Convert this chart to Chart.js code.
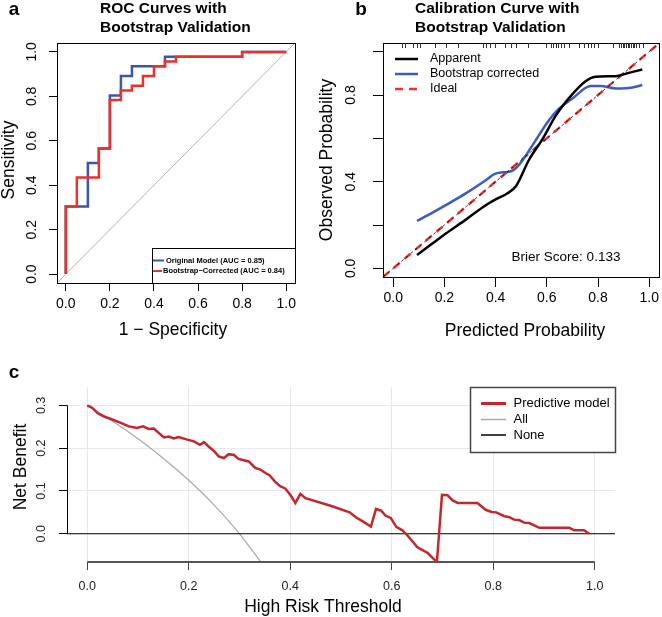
<!DOCTYPE html>
<html>
<head>
<meta charset="utf-8">
<script src="https://cdn.jsdelivr.net/npm/chart.js@4.4.0/dist/chart.umd.min.js"></script>
<style>
  html, body { margin: 0; padding: 0; background: #fff; }
  #wrap { position: relative; width: 662px; height: 617px; }
  .panel { position: absolute; }
</style>
</head>
<body>
<div id="wrap">
  <div class="panel" style="left:0;top:0;width:331px;height:345px"><canvas id="rocChart"></canvas></div>
  <div class="panel" style="left:300px;top:0;width:362px;height:345px"><canvas id="calChart"></canvas></div>
  <div class="panel" style="left:0;top:345px;width:662px;height:272px"><canvas id="dcaChart"></canvas></div>
</div>
<script>
// ---- data ----

// a: ROC
const unitTicks = [0, 0.2, 0.4, 0.6, 0.8, 1.0];
const origFpr = [0, 0, 0.1, 0.15, 0.2, 0.25, 0.3, 0.45, 0.8, 1.0];
const origTpr = [0, 0.304, 0.5, 0.565, 0.804, 0.891, 0.935, 0.978, 1.0, 1.0];
const bootFpr = [0, 0, 0.05, 0.15, 0.2, 0.25, 0.3, 0.35, 0.4, 0.45, 0.5, 0.8, 1.0];
const bootTpr = [0, 0.304, 0.435, 0.565, 0.783, 0.826, 0.848, 0.891, 0.935, 0.957, 0.978, 1.0, 1.0];
const chanceLine = [-0.04, 1.04];

// b: calibration
const calYLabels = [0, 0.4, 0.8];
const apparentX = [0.093, 0.15, 0.207, 0.285, 0.36, 0.40, 0.445, 0.48, 0.53, 0.585, 0.635, 0.69, 0.75, 0.79, 0.87, 0.92, 0.973];
const apparentY = [0.062, 0.112, 0.162, 0.226, 0.29, 0.318, 0.345, 0.38, 0.5, 0.6, 0.705, 0.79, 0.862, 0.884, 0.887, 0.902, 0.918];
const correctedX = [0.093, 0.15, 0.207, 0.285, 0.36, 0.395, 0.43, 0.46, 0.493, 0.545, 0.6, 0.64, 0.7, 0.772, 0.81, 0.87, 0.92, 0.973];
const correctedY = [0.219, 0.255, 0.293, 0.347, 0.405, 0.435, 0.443, 0.448, 0.48, 0.57, 0.67, 0.728, 0.784, 0.841, 0.841, 0.83, 0.832, 0.846];
const idealLine = [-0.04, 1.04];
const rugProb = [0.036, 0.045, 0.078, 0.091, 0.104, 0.162, 0.208, 0.253, 0.351, 0.364, 0.377, 0.396, 0.435, 0.461, 0.481,
  0.526, 0.597, 0.617, 0.623, 0.634, 0.643, 0.656, 0.669, 0.688, 0.727, 0.747, 0.76, 0.773, 0.786, 0.799,
  0.857, 0.883, 0.89, 0.896, 0.903, 0.909, 0.916, 0.922, 0.929, 0.935, 0.942, 0.948, 0.961, 0.974];
const brierScore = 0.133;

// c: decision curve
const dcaXTicks = [0, 0.2, 0.4, 0.6, 0.8, 1.0];
const dcaYTicks = [0, 0.1, 0.2, 0.3];
const modelThreshold = [0, 0.01, 0.02, 0.033, 0.049, 0.066, 0.082, 0.098, 0.11, 0.121, 0.131, 0.151, 0.161, 0.17, 0.18,
  0.197, 0.21, 0.222, 0.23, 0.239, 0.249, 0.259, 0.269, 0.279, 0.289, 0.298, 0.318, 0.331, 0.341, 0.351,
  0.359, 0.37, 0.38, 0.39, 0.4, 0.41, 0.42, 0.43, 0.481, 0.517, 0.53, 0.543, 0.559, 0.569, 0.579,
  0.588, 0.598, 0.609, 0.621, 0.631, 0.641, 0.65, 0.659, 0.671, 0.681, 0.689, 0.699, 0.71, 0.72, 0.73,
  0.769, 0.785, 0.797, 0.806, 0.822, 0.832, 0.841, 0.851, 0.861, 0.871, 0.891, 0.95, 0.96, 0.979, 0.989];
const modelNB = [0.3, 0.294, 0.282, 0.274, 0.267, 0.259, 0.251, 0.247, 0.251, 0.245, 0.246, 0.225, 0.227, 0.223, 0.226,
  0.22, 0.216, 0.208, 0.214, 0.204, 0.194, 0.181, 0.177, 0.186, 0.184, 0.175, 0.169, 0.154, 0.15, 0.142,
  0.137, 0.122, 0.111, 0.106, 0.091, 0.072, 0.093, 0.083, 0.065, 0.05, 0.038, 0.029, 0.017, 0.058, 0.054,
  0.042, 0.037, 0.016, 0.008, -0.004, -0.018, -0.031, -0.037, -0.045, -0.057, -0.066, 0.091, 0.09, 0.078, 0.072,
  0.072, 0.056, 0.051, 0.05, 0.041, 0.039, 0.033, 0.032, 0.026, 0.025, 0.014, 0.014, 0.008, 0.008, 0.0];
const allThreshold = [0, 0.05, 0.1, 0.15, 0.2, 0.25, 0.3, 0.342];
const allNB = [0.3, 0.263, 0.222, 0.176, 0.125, 0.067, 0.0, -0.066];
const noneThreshold = [-0.04, 1.04];
const noneNB = [0, 0];

// ---- helpers ----
const FONT = "'Liberation Sans', Arial, Helvetica, sans-serif";
Chart.defaults.font.family = FONT;
Chart.defaults.color = '#000';
Chart.defaults.animation = false;

const pts = (xs, ys) => xs.map((x, i) => ({ x: x, y: ys[i] }));

// free text: titles, panel letters, axis titles
const textPlugin = {
  id: 'panelText',
  afterDraw(chart, args, opts) {
    const ctx = chart.ctx;
    (opts.items || []).forEach(it => {
      ctx.save();
      ctx.font = it.font;
      ctx.fillStyle = it.color || '#000';
      ctx.textAlign = it.align || 'center';
      ctx.textBaseline = 'middle';
      ctx.translate(it.x, it.y);
      if (it.rot) ctx.rotate(it.rot);
      ctx.fillText(it.text, 0, 0);
      ctx.restore();
    });
  }
};

// R style y tick labels, parallel to the axis
const rotYTicks = {
  id: 'rotYTicks',
  afterDraw(chart, args, o) {
    const s = chart.scales.y, ctx = chart.ctx;
    ctx.save();
    ctx.font = o.font;
    ctx.fillStyle = o.color || '#000';
    ctx.textAlign = 'center';
    ctx.textBaseline = 'middle';
    o.values.forEach(v => {
      ctx.save();
      ctx.translate(chart.chartArea.left - o.offset, s.getPixelForValue(v));
      ctx.rotate(-Math.PI / 2);
      ctx.fillText(v.toFixed(1), 0, 0);
      ctx.restore();
    });
    ctx.restore();
  }
};

// box around plot region (a, b) or partial axis lines (c)
const framePlugin = {
  id: 'frame',
  afterDatasetsDraw(chart, args, o) {
    const ctx = chart.ctx, a = chart.chartArea;
    ctx.save();
    if (o.box) {
      ctx.strokeStyle = '#000';
      ctx.lineWidth = 1;
      ctx.strokeRect(Math.round(a.left) + 0.5, Math.round(a.top) + 0.5,
        Math.round(a.right - a.left), Math.round(a.bottom - a.top));
    }
    if (o.axes) {
      const xs = chart.scales.x, ys = chart.scales.y;
      ctx.strokeStyle = '#000';
      ctx.lineWidth = 1;
      ctx.beginPath();
      ctx.moveTo(Math.round(a.left) + 0.5, ys.getPixelForValue(o.axes.y[0]));
      ctx.lineTo(Math.round(a.left) + 0.5, ys.getPixelForValue(o.axes.y[1]));
      ctx.stroke();
      ctx.strokeStyle = '#555';
      ctx.lineWidth = 2;
      ctx.beginPath();
      ctx.moveTo(xs.getPixelForValue(o.axes.x[0]), a.bottom);
      ctx.lineTo(xs.getPixelForValue(o.axes.x[1]), a.bottom);
      ctx.stroke();
    }
    ctx.restore();
  }
};

// rug of predicted probabilities along top edge
const rugPlugin = {
  id: 'rug',
  afterDatasetsDraw(chart, args, o) {
    if (!o.values) return;
    const ctx = chart.ctx, xs = chart.scales.x, top = chart.chartArea.top;
    ctx.save();
    ctx.strokeStyle = '#333';
    ctx.lineWidth = 1;
    o.values.forEach(v => {
      const x = Math.round(xs.getPixelForValue(v)) + 0.5;
      ctx.beginPath();
      ctx.moveTo(x, top);
      ctx.lineTo(x, top + o.len);
      ctx.stroke();
    });
    ctx.restore();
  }
};

// legend drawn like R's legend(), styles taken from the datasets
const boxLegend = {
  id: 'boxLegend',
  afterDraw(chart, args, o) {
    if (!o.items) return;
    const ctx = chart.ctx;
    ctx.save();
    if (o.box) {
      ctx.fillStyle = '#fff';
      ctx.fillRect(o.box.x, o.box.y, o.box.w, o.box.h);
      ctx.strokeStyle = o.box.color;
      ctx.lineWidth = o.box.lw;
      ctx.strokeRect(o.box.x + 0.5, o.box.y + 0.5, o.box.w, o.box.h);
    }
    o.items.forEach(it => {
      const ds = chart.data.datasets[it.ds];
      ctx.strokeStyle = ds.borderColor;
      ctx.lineWidth = it.lw || ds.borderWidth;
      ctx.setLineDash(ds.borderDash || []);
      ctx.beginPath();
      ctx.moveTo(it.x1, it.y);
      ctx.lineTo(it.x2, it.y);
      ctx.stroke();
      ctx.setLineDash([]);
      ctx.font = o.font;
      ctx.fillStyle = '#000';
      ctx.textAlign = 'left';
      ctx.textBaseline = 'middle';
      ctx.fillText(ds.label, it.tx, it.y);
    });
    ctx.restore();
  }
};

function axis(opts) {
  return Object.assign({
    type: 'linear',
    border: { display: false },
    afterBuildTicks: s => { s.ticks = opts.tickValues.map(v => ({ value: v })); }
  }, opts.extra);
}

// ---- a: ROC ----
new Chart(document.getElementById('rocChart'), {
  type: 'line',
  data: {
    datasets: [
      { label: 'Original Model (AUC = 0.85)', data: pts(origFpr, origTpr), stepped: 'before',
        borderColor: '#3b55b5', borderWidth: 2.5, pointRadius: 0, order: 2 },
      { label: 'Bootstrap\u2212Corrected (AUC = 0.84)', data: pts(bootFpr, bootTpr), stepped: 'before',
        borderColor: '#e8322b', borderWidth: 2.5, pointRadius: 0, order: 1 },
      { label: 'chance', data: pts(chanceLine, chanceLine),
        borderColor: '#b4b4b4', borderWidth: 1, pointRadius: 0, order: 3 }
    ]
  },
  options: {
    responsive: true,
    maintainAspectRatio: false,
    events: [],
    layout: { padding: { left: 0, top: 43, right: 36, bottom: 0 } },
    scales: {
      x: axis({ tickValues: unitTicks, extra: {
        min: -0.04, max: 1.04,
        afterFit: s => { s.height = 62; },
        grid: { drawOnChartArea: false, tickLength: 8, color: '#000', tickColor: '#000' },
        ticks: { font: { size: 14 }, color: '#000', padding: 5, autoSkip: false, maxRotation: 0,
          callback: v => Number(v).toFixed(1) }
      }}),
      y: axis({ tickValues: unitTicks, extra: {
        min: -0.04, max: 1.04,
        afterFit: s => { s.width = 57; },
        grid: { drawOnChartArea: false, tickLength: 8, color: '#000', tickColor: '#000' },
        ticks: { display: false }
      }})
    },
    plugins: {
      legend: { display: false },
      tooltip: { enabled: false },
      rotYTicks: { values: unitTicks, offset: 24.5, font: '14px ' + FONT },
      frame: { box: true },
      boxLegend: {
        box: { x: 152, y: 248, w: 143, h: 35, color: '#000', lw: 1 },
        font: 'bold 7.5px ' + FONT,
        items: [
          { ds: 0, x1: 153, x2: 164, tx: 166, y: 260.5, lw: 2 },
          { ds: 1, x1: 153, x2: 162, tx: 163, y: 271, lw: 2 }
        ]
      },
      panelText: { items: [
        { text: 'a', x: 14, y: 10, font: 'bold 19px ' + FONT },
        { text: 'ROC Curves with', x: 100, y: 9, font: 'bold 15.5px ' + FONT, align: 'left' },
        { text: 'Bootstrap Validation', x: 100, y: 27.5, font: 'bold 15.5px ' + FONT, align: 'left' },
        { text: 'Sensitivity', x: 9, y: 160, font: '17.5px ' + FONT, rot: -Math.PI / 2 },
        { text: '1 \u2212 Specificity', x: 173, y: 330, font: '17.5px ' + FONT }
      ]}
    }
  },
  plugins: [rotYTicks, framePlugin, boxLegend, textPlugin]
});

// ---- b: calibration ----
new Chart(document.getElementById('calChart'), {
  type: 'line',
  data: {
    datasets: [
      { label: 'Apparent', data: pts(apparentX, apparentY), cubicInterpolationMode: 'monotone',
        borderColor: '#000', borderWidth: 2.5, pointRadius: 0, order: 2 },
      { label: 'Bootstrap corrected', data: pts(correctedX, correctedY), cubicInterpolationMode: 'monotone',
        borderColor: '#3d5cc0', borderWidth: 2.5, pointRadius: 0, order: 3 },
      { label: 'Ideal', data: pts(idealLine, idealLine), borderDash: [8, 6],
        borderColor: '#ec3228', borderWidth: 2.5, pointRadius: 0, order: 4 },
      { label: 'diag', data: pts(idealLine, idealLine), borderDash: [3, 3],
        borderColor: '#000', borderWidth: 0.8, pointRadius: 0, order: 1 }
    ]
  },
  options: {
    responsive: true,
    maintainAspectRatio: false,
    events: [],
    layout: { padding: { left: 0, top: 43, right: 2, bottom: 0 } },
    scales: {
      x: axis({ tickValues: unitTicks, extra: {
        min: -0.04, max: 1.04,
        afterFit: s => { s.height = 68; },
        grid: { drawOnChartArea: false, tickLength: 10, color: '#000', tickColor: '#000' },
        ticks: { font: { size: 14 }, color: '#000', padding: 3, autoSkip: false, maxRotation: 0,
          callback: v => Number(v).toFixed(1) }
      }}),
      y: axis({ tickValues: unitTicks, extra: {
        min: -0.04, max: 1.04,
        afterFit: s => { s.width = 83; },
        grid: { drawOnChartArea: false, tickLength: 10, color: '#000', tickColor: '#000' },
        ticks: { display: false }
      }})
    },
    plugins: {
      legend: { display: false },
      tooltip: { enabled: false },
      rotYTicks: { values: calYLabels, offset: 31.5, font: '14px ' + FONT },
      frame: { box: true },
      rug: { values: rugProb, len: 5 },
      boxLegend: {
        font: '12.5px ' + FONT,
        items: [
          { ds: 0, x1: 95, x2: 118, tx: 130, y: 59 },
          { ds: 1, x1: 95, x2: 118, tx: 130, y: 74 },
          { ds: 2, x1: 95, x2: 118, tx: 130, y: 89 }
        ]
      },
      panelText: { items: [
        { text: 'b', x: 61, y: 10, font: 'bold 19px ' + FONT },
        { text: 'Calibration Curve with', x: 115, y: 9, font: 'bold 15.5px ' + FONT, align: 'left' },
        { text: 'Bootstrap Validation', x: 115, y: 27.5, font: 'bold 15.5px ' + FONT, align: 'left' },
        { text: 'Observed Probability', x: 27, y: 160, font: '17.5px ' + FONT, rot: -Math.PI / 2 },
        { text: 'Predicted Probability', x: 225, y: 331, font: '17.5px ' + FONT },
        { text: 'Brier Score: ' + brierScore.toFixed(3), x: 266, y: 257, font: '13.5px ' + FONT }
      ]}
    }
  },
  plugins: [rotYTicks, framePlugin, rugPlugin, boxLegend, textPlugin]
});

// ---- c: decision curve ----
new Chart(document.getElementById('dcaChart'), {
  type: 'line',
  data: {
    datasets: [
      { label: 'Predictive model', data: pts(modelThreshold, modelNB), tension: 0,
        borderColor: '#c3272c', borderWidth: 2.5, pointRadius: 0, order: 1 },
      { label: 'All', data: pts(allThreshold, allNB), cubicInterpolationMode: 'monotone',
        borderColor: '#a8a8a8', borderWidth: 1.2, pointRadius: 0, order: 3 },
      { label: 'None', data: pts(noneThreshold, noneNB),
        borderColor: '#000', borderWidth: 1.2, pointRadius: 0, order: 2 }
    ]
  },
  options: {
    responsive: true,
    maintainAspectRatio: false,
    events: [],
    layout: { padding: { left: 0, top: 42, right: 47, bottom: 0 } },
    scales: {
      x: axis({ tickValues: dcaXTicks, extra: {
        min: -0.04, max: 1.04,
        afterFit: s => { s.height = 55; },
        grid: { drawOnChartArea: true, tickLength: 8, color: '#e8e8e8', tickColor: '#444' },
        ticks: { font: { size: 12.5 }, color: '#222', padding: 9, autoSkip: false, maxRotation: 0,
          callback: v => Number(v).toFixed(1) }
      }}),
      y: axis({ tickValues: dcaYTicks, extra: {
        min: -0.066, max: 0.343,
        afterFit: s => { s.width = 67; },
        grid: { drawOnChartArea: true, tickLength: 8, color: '#e8e8e8', tickColor: '#000' },
        ticks: { display: false }
      }})
    },
    plugins: {
      legend: { display: false },
      tooltip: { enabled: false },
      rotYTicks: { values: dcaYTicks, offset: 25, font: '12.5px ' + FONT, color: '#222' },
      frame: { axes: { x: [0, 1], y: [0, 0.3] } },
      boxLegend: {
        box: { x: 470, y: 42, w: 145, h: 65, color: '#444', lw: 1.5 },
        font: '13px ' + FONT,
        items: [
          { ds: 0, x1: 481, x2: 506, tx: 513.5, y: 58.5, lw: 3 },
          { ds: 1, x1: 481, x2: 506, tx: 513.5, y: 74.5, lw: 1.5 },
          { ds: 2, x1: 481, x2: 506, tx: 513.5, y: 90, lw: 1.5 }
        ]
      },
      panelText: { items: [
        { text: 'c', x: 14, y: 28, font: 'bold 19px ' + FONT },
        { text: 'Net Benefit', x: 21.5, y: 122, font: '17.5px ' + FONT, rot: -Math.PI / 2 },
        { text: 'High Risk Threshold', x: 323, y: 262, font: '17.5px ' + FONT }
      ]}
    }
  },
  plugins: [rotYTicks, framePlugin, boxLegend, textPlugin]
});
</script>
</body>
</html>
